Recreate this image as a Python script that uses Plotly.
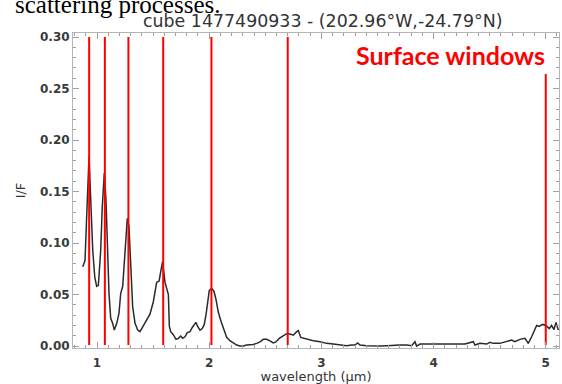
import plotly.graph_objects as go

# Spectrum (wavelength in µm, I/F)
wavelength = [0.873, 0.893, 0.908, 0.929, 0.944, 0.962, 0.980, 0.997, 1.012, 1.033,
              1.047, 1.065, 1.080, 1.092, 1.107, 1.122, 1.140, 1.154, 1.176, 1.196,
              1.211, 1.229, 1.243, 1.258, 1.270, 1.285, 1.300, 1.318, 1.339, 1.363,
              1.383, 1.407, 1.437, 1.472, 1.502, 1.532, 1.553, 1.584, 1.606, 1.627,
              1.636, 1.645, 1.657, 1.680, 1.704, 1.725, 1.746, 1.764, 1.784, 1.805,
              1.829, 1.849, 1.867, 1.882, 1.897, 1.918, 1.938, 1.956, 1.971, 1.987,
              2.001, 2.022, 2.043, 2.061, 2.081, 2.105, 2.132, 2.156, 2.185, 2.215,
              2.245, 2.274, 2.304, 2.334, 2.364, 2.393, 2.423, 2.453, 2.482, 2.512,
              2.542, 2.571, 2.595, 2.625, 2.655, 2.691, 2.720, 2.750, 2.780, 2.795,
              2.816, 2.869, 2.928, 2.988, 3.047, 3.106, 3.166, 3.225, 3.270, 3.299,
              3.324, 3.344, 3.404, 3.463, 3.522, 3.582, 3.641, 3.701, 3.760, 3.804,
              3.834, 3.849, 3.879, 3.938, 3.997, 4.057, 4.117, 4.176, 4.235, 4.280,
              4.354, 4.369, 4.414, 4.473, 4.503, 4.532, 4.592, 4.651, 4.696, 4.725,
              4.770, 4.815, 4.844, 4.874, 4.895, 4.919, 4.942, 4.972, 5.002, 5.031,
              5.052, 5.073, 5.091, 5.112]
reflectance = [0.077, 0.083, 0.126, 0.184, 0.142, 0.093, 0.067, 0.058, 0.059, 0.093,
               0.135, 0.168, 0.142, 0.093, 0.051, 0.027, 0.022, 0.0155, 0.022, 0.032,
               0.051, 0.058, 0.083, 0.103, 0.124, 0.116, 0.077, 0.038, 0.022, 0.0155,
               0.014, 0.019, 0.025, 0.031, 0.043, 0.062, 0.063, 0.082, 0.062, 0.054,
               0.050, 0.019, 0.014, 0.011, 0.0065, 0.0075, 0.0097, 0.0075, 0.009, 0.013,
               0.014, 0.018, 0.021, 0.023, 0.019, 0.0155, 0.017, 0.021, 0.030, 0.045,
               0.054, 0.056, 0.053, 0.045, 0.033, 0.024, 0.0155, 0.0084, 0.0052, 0.0032,
               0.001, 0.000, 0.000, 0.001, 0.001, 0.0016, 0.0026, 0.004, 0.0065, 0.0065,
               0.005, 0.003, 0.004, 0.0075, 0.0097, 0.012, 0.0116, 0.0105, 0.014, 0.015,
               0.0084, 0.0065, 0.0051, 0.0042, 0.0026, 0.0019, 0.001, 0.0003, 0.001, 0.001,
               0.003, 0.001, 0.0003, 0.0, 0.0, 0.0003, 0.001, 0.001, 0.001, 0.0003,
               0.0042, 0.0, 0.0019, 0.0019, 0.0026, 0.0019, 0.0026, 0.0019, 0.0026, 0.0019,
               0.0042, 0.001, 0.0026, 0.0019, 0.0036, 0.0026, 0.0026, 0.0042, 0.0058, 0.0042,
               0.0065, 0.0075, 0.0026, 0.009, 0.014, 0.020, 0.019, 0.021, 0.020, 0.017,
               0.020, 0.016, 0.023, 0.0155]

# Surface windows (µm) and the I/F extent of each marker line
window_wavelengths = [0.93, 1.07, 1.28, 1.59, 2.02, 2.70, 5.00]
window_bottom = [0.001, 0.001, 0.001, 0.001, 0.001, 0.001, 0.001]
window_top = [0.300, 0.300, 0.300, 0.300, 0.300, 0.300, 0.264]

title_text = "cube 1477490933 - (202.96°W,-24.79°N)"
x_tickvals = [1, 2, 3, 4, 5]
y_tickvals = [0.00, 0.05, 0.10, 0.15, 0.20, 0.25, 0.30]

fig = go.Figure()
fig.add_trace(go.Scatter(x=wavelength, y=reflectance, mode="lines",
                         line=dict(color="#2a2a2a", width=1.5), showlegend=False))
for w, b, t in zip(window_wavelengths, window_bottom, window_top):
    fig.add_trace(go.Scatter(x=[w, w], y=[b, t], mode="lines",
                             line=dict(color="#ff0000", width=2), showlegend=False))

axis_common = dict(showline=True, linecolor="#b4b4b4", linewidth=1, mirror="allticks",
                   ticks="inside", ticklen=6, tickcolor="#a0a0a0", tickwidth=1,
                   showgrid=False, zeroline=False, automargin=False,
                   tickfont=dict(family="DejaVu Sans", size=12, color="#3a3a3a", weight="bold"))

fig.update_xaxes(range=[0.786, 5.118], tickvals=x_tickvals, ticktext=[str(v) for v in x_tickvals],
                 ticklabelstandoff=4,
                 minor=dict(dtick=0.1, tick0=0, ticklen=3, ticks="inside", tickcolor="#a0a0a0"),
                 title=dict(text="wavelength (µm)", standoff=4,
                            font=dict(family="DejaVu Sans", size=13, color="#333333")),
                 **axis_common)
fig.update_yaxes(range=[-0.0019, 0.3039], tickvals=y_tickvals,
                 ticktext=[f"{v:.2f}" for v in y_tickvals],
                 minor=dict(dtick=0.01, tick0=0, ticklen=3, ticks="inside", tickcolor="#a0a0a0"),
                 title=dict(text="I/F", standoff=11,
                            font=dict(family="DejaVu Sans", size=13, color="#333333")),
                 **axis_common)

fig.add_annotation(text=title_text, xref="paper", yref="paper", x=0.514, y=(348 - 21) / 315,
                   xanchor="center", yanchor="middle", showarrow=False,
                   font=dict(family="DejaVu Sans", size=17.4, color="#333333"))
fig.add_annotation(text="Surface windows", xref="paper", yref="paper", x=(450 - 73) / 486,
                   y=(348 - 55) / 315, xanchor="center", yanchor="middle", showarrow=False,
                   font=dict(family="Lato", size=25, color="#ff0000", weight="bold"))
fig.add_annotation(text="scattering processes.", xref="paper", yref="paper", x=(13 - 73) / 486,
                   y=(348 - 4) / 315, xanchor="left", yanchor="middle", showarrow=False,
                   font=dict(family="Liberation Serif", size=25, color="#000000"))

fig.update_layout(width=562, height=384, margin=dict(l=73, r=3, t=33, b=36),
                  paper_bgcolor="white", plot_bgcolor="white", showlegend=False)

fig.write_html("out.html", config={"displayModeBar": False},
               post_script="document.body.style.margin='0';document.body.style.overflow='hidden';")
